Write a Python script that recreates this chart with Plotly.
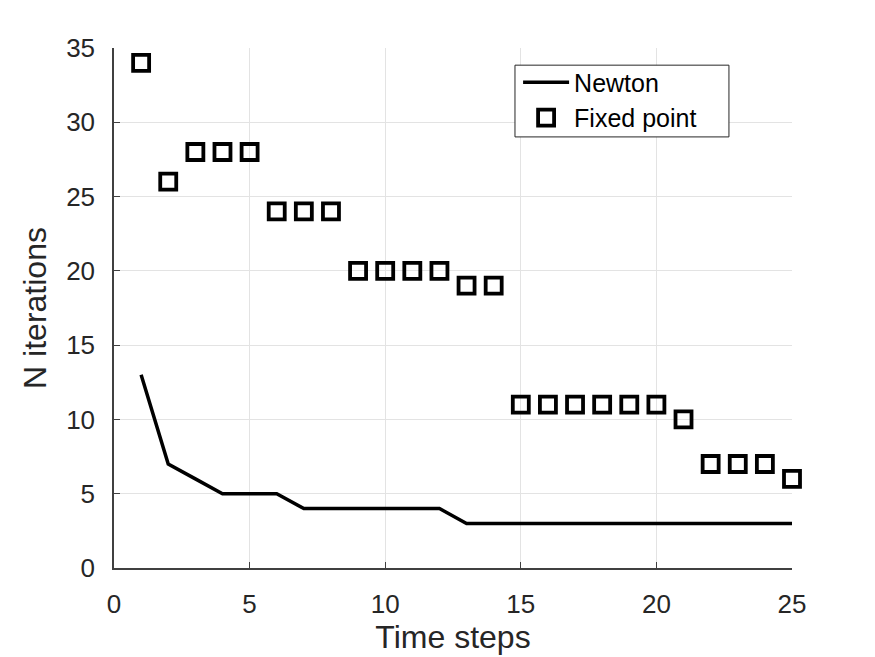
import plotly.graph_objects as go

time_steps = list(range(1, 26))
newton = [13, 7, 6, 5, 5, 5, 4, 4, 4, 4, 4, 4, 3, 3, 3, 3, 3, 3, 3, 3, 3, 3, 3, 3, 3]
fixed_point = [34, 26, 28, 28, 28, 24, 24, 24, 20, 20, 20, 20, 19, 19,
               11, 11, 11, 11, 11, 11, 10, 7, 7, 7, 6]
x_ticks = [0, 5, 10, 15, 20, 25]
y_ticks = [0, 5, 10, 15, 20, 25, 30, 35]

fig = go.Figure()
fig.add_trace(go.Scatter(x=time_steps, y=newton, mode="lines", name="Newton",
                         line=dict(color="black", width=3.5), cliponaxis=False))
fig.add_trace(go.Scatter(x=time_steps, y=fixed_point, mode="markers", name="Fixed point",
                         cliponaxis=False,
                         marker=dict(symbol="square-open", size=16, color="black",
                                     line=dict(width=3.8, color="black"))))

# legend frame
fig.add_shape(type="rect", xref="paper", yref="paper",
              x0=0.5914, x1=0.907, y0=0.829, y1=0.967,
              line=dict(color="#262626", width=1), fillcolor="white", layer="above")

font_family = "Liberation Sans, Arial, sans-serif"
fig.update_layout(
    width=875, height=657,
    margin=dict(l=114, r=83, t=48, b=89),
    paper_bgcolor="white", plot_bgcolor="white",
    font=dict(family=font_family, size=24, color="#262626"),
    showlegend=True,
    legend=dict(x=0.596, y=0.978, xanchor="left", yanchor="top",
                borderwidth=0, bgcolor="rgba(0,0,0,0)",
                font=dict(size=25, color="black"), tracegroupgap=0,
                itemwidth=46),
    xaxis=dict(range=[0, 25], tickvals=x_ticks, showgrid=True, gridcolor="#e3e3e3",
               gridwidth=1, showline=True, linecolor="#404040", linewidth=1.5,
               ticks="inside", ticklen=6, tickcolor="#404040", zeroline=False,
               ticklabelstandoff=12, automargin=False,
               title=dict(text="Time steps", font=dict(size=32, color="#262626"), standoff=8),
               tickfont=dict(size=26)),
    yaxis=dict(range=[0, 35], tickvals=y_ticks, showgrid=True, gridcolor="#e3e3e3",
               gridwidth=1, showline=True, linecolor="#404040", linewidth=1.5,
               ticks="inside", ticklen=6, tickcolor="#404040", zeroline=False,
               ticklabelstandoff=12, automargin=False,
               title=dict(text="N iterations", font=dict(size=32, color="#262626"), standoff=10),
               tickfont=dict(size=26)),
)

fig.write_html("out.html")
